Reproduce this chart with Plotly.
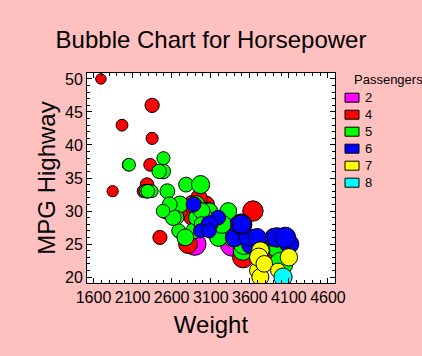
import plotly.graph_objects as go

# Data (Weight, MPG Highway, Passengers, Horsepower) per car
weight = [2705, 3560, 3375, 3405, 3640, 2880, 3470, 4105, 3495, 3620,
          3935, 2490, 2785, 3240, 3195, 3715, 4025, 3910, 3380, 3515,
          3085, 3570, 2270, 2670, 2970, 3705, 3080, 3805, 2295, 3490,
          1845, 2530, 2690, 2850, 2710, 3735, 3325, 3950, 1695, 2475,
          2865, 2350, 3040, 2345, 2620, 2285, 2885, 4000, 3510, 3515,
          3695, 4055, 2325, 2440, 2970, 3735, 2895, 2920, 3525, 2450,
          3610, 2295, 3730, 2545, 3050, 4100, 3200, 2910, 2890, 3715,
          3470, 2640, 2350, 2575, 3240, 3450, 3495, 2775, 2495, 2045,
          2490, 3085, 1965, 2055, 2950, 3030, 3785, 2240, 3960, 2985,
          2810, 2985, 3245]
mpg_highway = [31, 25, 26, 26, 30, 31, 28, 25, 27, 25,
               25, 36, 34, 28, 29, 23, 20, 26, 25, 28,
               28, 26, 33, 29, 27, 21, 27, 24, 33, 28,
               33, 30, 27, 29, 30, 20, 30, 26, 50, 36,
               31, 46, 31, 33, 29, 34, 27, 22, 24, 23,
               26, 26, 37, 36, 34, 24, 25, 29, 25, 26,
               26, 33, 24, 33, 30, 23, 26, 31, 31, 23,
               28, 30, 41, 31, 28, 27, 28, 26, 38, 37,
               30, 30, 43, 37, 32, 29, 22, 33, 21, 30,
               25, 28, 28]
passengers = [5, 5, 5, 6, 4, 6, 6, 6, 5, 6,
              5, 5, 5, 4, 6, 7, 8, 6, 2, 6,
              6, 6, 5, 5, 6, 7, 6, 4, 5, 6,
              4, 5, 5, 4, 4, 7, 5, 6, 4, 4,
              4, 4, 4, 5, 5, 4, 5, 5, 5, 4,
              6, 6, 4, 5, 5, 7, 2, 5, 5, 4,
              5, 5, 5, 5, 5, 7, 5, 5, 5, 7,
              6, 4, 4, 5, 4, 5, 6, 5, 5, 4,
              5, 5, 4, 5, 4, 5, 7, 4, 7, 5,
              4, 5, 5]
horsepower = [140, 200, 172, 172, 208, 110, 170, 180, 170, 200,
              295, 110, 110, 160, 110, 170, 165, 170, 300, 153,
              141, 147, 92, 93, 100, 142, 100, 300, 92, 214,
              63, 127, 96, 105, 115, 145, 140, 190, 55, 90,
              160, 102, 140, 81, 124, 92, 128, 278, 185, 225,
              160, 210, 82, 103, 164, 155, 255, 130, 217, 100,
              140, 92, 202, 110, 150, 151, 160, 155, 110, 170,
              170, 92, 74, 110, 160, 200, 170, 140, 85, 73,
              90, 130, 70, 82, 135, 130, 138, 81, 109, 134,
              178, 114, 168]

passenger_levels = [2, 4, 5, 6, 7, 8]
level_colors = ["#FF00FF", "#FF0000", "#00FF00", "#0000FF", "#FFFF00", "#00FFFF"]

x_ticks = [1600, 2100, 2600, 3100, 3600, 4100, 4600]
y_ticks = [20, 25, 30, 35, 40, 45, 50]

FONT = "Liberation Sans, Arial, sans-serif"

fig = go.Figure()
for lvl, col in zip(passenger_levels, level_colors):
    idx = [i for i, p in enumerate(passengers) if p == lvl]
    fig.add_trace(go.Scatter(
        x=[weight[i] for i in idx],
        y=[mpg_highway[i] for i in idx],
        mode="markers",
        name=str(lvl),
        showlegend=False,
        hoverinfo="skip",
        marker=dict(size=[horsepower[i] for i in idx], sizemode="area", sizeref=1,
                    color=col, opacity=1, line=dict(color="black", width=1)),
    ))

# plot area in pixels: x 87..335, y 73..283
L, R, T, B = 87, 335, 73, 283
W, H = R - L, B - T
def px(xp):
    return (xp - L) / W
def py(yp):
    return (B - yp) / H

shapes = []
annotations = []
annotations.append(dict(text="Passengers", x=px(352), y=py(79), xref="paper", yref="paper",
                        xanchor="left", yanchor="middle", showarrow=False,
                        font=dict(family=FONT, size=13, color="black")))
for i, (lvl, col) in enumerate(zip(passenger_levels, level_colors)):
    ry = 97.7 + 17 * i
    shapes.append(dict(type="rect", xref="paper", yref="paper",
                       x0=px(345), x1=px(359), y0=py(ry + 4.5), y1=py(ry - 4.5),
                       fillcolor=col, line=dict(color="black", width=1)))
    annotations.append(dict(text=str(lvl), x=px(363), y=py(ry), xref="paper", yref="paper",
                            xanchor="left", yanchor="middle", showarrow=False,
                            font=dict(family=FONT, size=13, color="black")))

axis_common = dict(showgrid=False, zeroline=False, showline=True, linecolor="black",
                   linewidth=1, mirror="ticks", ticks="inside", ticklen=5, tickwidth=1,
                   tickcolor="black", automargin=False,
                   tickfont=dict(family=FONT, size=16, color="black"))

fig.update_layout(
    width=422, height=356, autosize=False,
    margin=dict(l=L, r=422 - R, t=T, b=356 - B, pad=0),
    paper_bgcolor="#FFC0C0", plot_bgcolor="white",
    title=dict(text="Bubble Chart for Horsepower", x=0.5, xanchor="center",
               y=1 - 40 / 356, yanchor="middle", automargin=False,
               font=dict(family=FONT, size=24, color="black")),
    xaxis=dict(range=[1517, 4690], tickvals=x_ticks, ticktext=[str(v) for v in x_ticks],
               minor=dict(dtick=100, tick0=1600, ticks="inside", ticklen=3, tickcolor="black"),
               title=dict(text="Weight", standoff=10, font=dict(family=FONT, size=24, color="black")),
               **axis_common),
    yaxis=dict(range=[19.1, 50.9], tickvals=y_ticks, ticktext=[str(v) for v in y_ticks],
               minor=dict(dtick=1, tick0=20, ticks="inside", ticklen=3, tickcolor="black"),
               title=dict(text="MPG Highway", standoff=2, font=dict(family=FONT, size=24, color="black")),
               **axis_common),
    shapes=shapes, annotations=annotations,
    showlegend=False,
)

fig.write_html("out.html", config={"displayModeBar": False},
               post_script="document.body.style.margin='0px';document.body.style.overflow='hidden';")
